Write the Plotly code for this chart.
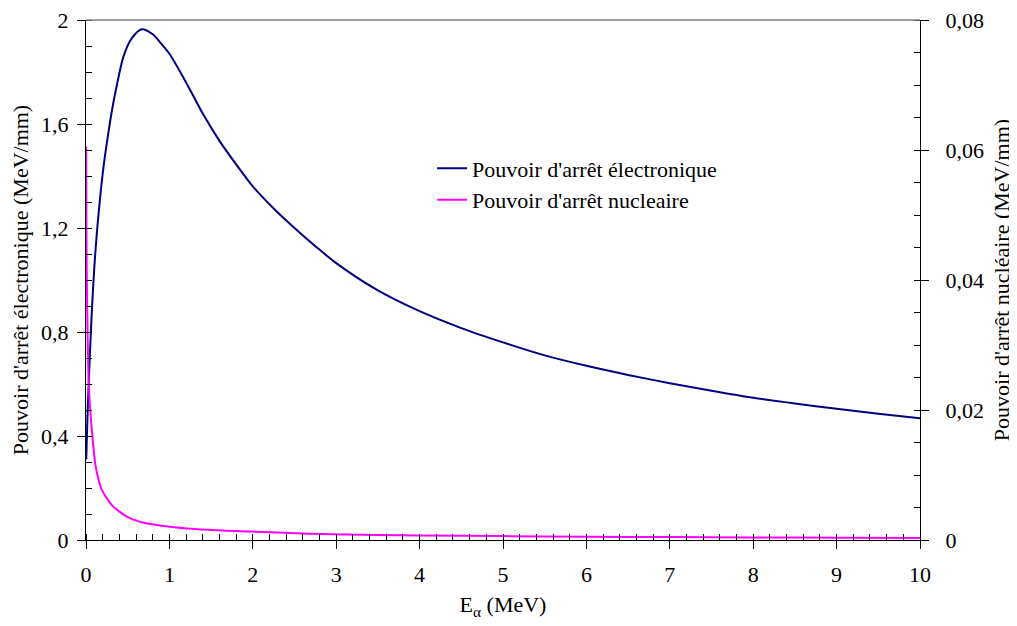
import plotly.graph_objects as go

# Electronic stopping power (MeV/mm) vs E_alpha (MeV)
e_elec = [0.003, 0.02, 0.045, 0.07, 0.1, 0.13, 0.17, 0.22, 0.27, 0.31, 0.37, 0.45,
          0.55, 0.67, 0.80, 0.90, 1.0, 1.2, 1.4, 1.6, 1.8, 2.0, 2.25, 2.5, 2.75, 3.0,
          3.5, 4.0, 4.5, 5.0, 5.5, 6.0, 6.5, 7.0, 7.5, 8.0, 8.5, 9.0, 9.5, 10.0]
s_elec = [0.31, 0.50, 0.70, 0.88, 1.05, 1.18, 1.32, 1.46, 1.57, 1.65, 1.75, 1.86,
          1.93, 1.964, 1.945, 1.91, 1.87, 1.76, 1.64, 1.535, 1.445, 1.36, 1.275, 1.20, 1.13, 1.065,
          0.96, 0.88, 0.815, 0.76, 0.71, 0.67, 0.635, 0.603, 0.574, 0.547, 0.525, 0.505, 0.486, 0.468]

# Nuclear stopping power (MeV/mm) vs E_alpha (MeV)
e_nucl = [0.001, 0.005, 0.01, 0.02, 0.03, 0.045, 0.07, 0.11, 0.15, 0.19, 0.25, 0.33,
          0.49, 0.69, 1.0, 1.3, 1.69, 2.2, 2.69, 3.5, 4.0, 5.0, 6.0, 7.0, 8.0, 9.0, 10.0]
s_nucl = [0.0605, 0.047, 0.040, 0.031, 0.025, 0.021, 0.0169, 0.0118, 0.0093, 0.0077, 0.0064, 0.0051,
          0.0036, 0.00266, 0.00205, 0.0017, 0.00143, 0.0012, 0.00095, 0.00078, 0.0007, 0.0006,
          0.0005, 0.00045, 0.0004, 0.00035, 0.0003]

x_ticks = [0, 1, 2, 3, 4, 5, 6, 7, 8, 9, 10]
x_labels = ["0", "1", "2", "3", "4", "5", "6", "7", "8", "9", "10"]
yl_ticks = [0, 0.4, 0.8, 1.2, 1.6, 2.0]
yl_labels = ["0", "0,4", "0,8", "1,2", "1,6", "2"]
yr_ticks = [0, 0.02, 0.04, 0.06, 0.08]
yr_labels = ["0", "0,02", "0,04", "0,06", "0,08"]

FONT = "Liberation Serif, Times New Roman, serif"
TF = dict(family=FONT, size=22, color="black")
fig = go.Figure()
fig.add_trace(go.Scatter(x=e_elec, y=s_elec, mode="lines", line=dict(color="#000080", width=2,
                         shape="spline", smoothing=0.8), name="Pouvoir d'arrêt électronique"))
fig.add_trace(go.Scatter(x=e_nucl, y=s_nucl, mode="lines", line=dict(color="#FF00FF", width=2,
                         shape="spline", smoothing=0.6), name="Pouvoir d'arrêt nucleaire", yaxis="y2"))

common = dict(showgrid=False, zeroline=False, automargin=False, tickfont=TF,
              ticklabeloverflow="allow")
fig.update_layout(
    width=1009, height=618,
    margin=dict(l=78, r=97, t=12, b=86),
    paper_bgcolor="white", plot_bgcolor="white",
    font=TF,
    separators=", ",
    showlegend=True,
    legend=dict(x=0.415, y=0.755, xanchor="left", yanchor="top", bgcolor="rgba(0,0,0,0)",
                font=TF, tracegroupgap=0),
    xaxis=dict(range=[0, 10], tickvals=x_ticks, ticktext=x_labels, ticks="outside", ticklen=8,
               tickcolor="black", showline=True, linecolor="black", linewidth=1,
               ticklabelstandoff=7,
               minor=dict(ticks="inside", dtick=0.2, ticklen=6, tickcolor="black"),
               title=dict(text="E<sub>α</sub> (MeV)", standoff=10, font=TF), **common),
    xaxis2=dict(range=[0, 10], overlaying="x", anchor="y", tickvals=x_ticks, ticks="inside",
                ticklen=6, tickcolor="black", showticklabels=False, showline=False, **common),
    yaxis=dict(range=[0, 2], tickvals=yl_ticks, ticktext=yl_labels, ticks="outside", ticklen=8,
               tickcolor="black", showline=True, linecolor="black", linewidth=1,
               ticklabelstandoff=4,
               minor=dict(ticks="inside", dtick=0.1, ticklen=6, tickcolor="black"),
               title=dict(text="Pouvoir d'arrêt électronique (MeV/mm)", standoff=13, font=TF), **common),
    yaxis2=dict(range=[0, 0.08], overlaying="y", side="right", anchor="x", tickvals=yr_ticks,
                ticktext=yr_labels, ticks="outside", ticklen=8, tickcolor="black", showline=True,
                linecolor="black", linewidth=1, ticklabelstandoff=12,
                minor=dict(ticks="inside", dtick=0.005, ticklen=6, tickcolor="black"),
                title=dict(text="Pouvoir d'arrêt nucléaire (MeV/mm)", standoff=10, font=TF), **common),
    yaxis3=dict(range=[0, 2], overlaying="y", side="left", anchor="x", tickvals=yl_ticks,
                ticks="inside", ticklen=6, tickcolor="black", showticklabels=False,
                showline=False, **common),
    yaxis4=dict(range=[0, 0.08], overlaying="y", side="right", anchor="x", tickvals=yr_ticks,
                ticks="inside", ticklen=6, tickcolor="black", showticklabels=False,
                showline=False, **common),
)
fig.add_shape(type="line", xref="paper", yref="paper", x0=0, x1=1, y0=1, y1=1,
              line=dict(color="#808080", width=1.5))
fig.write_html("out.html")
